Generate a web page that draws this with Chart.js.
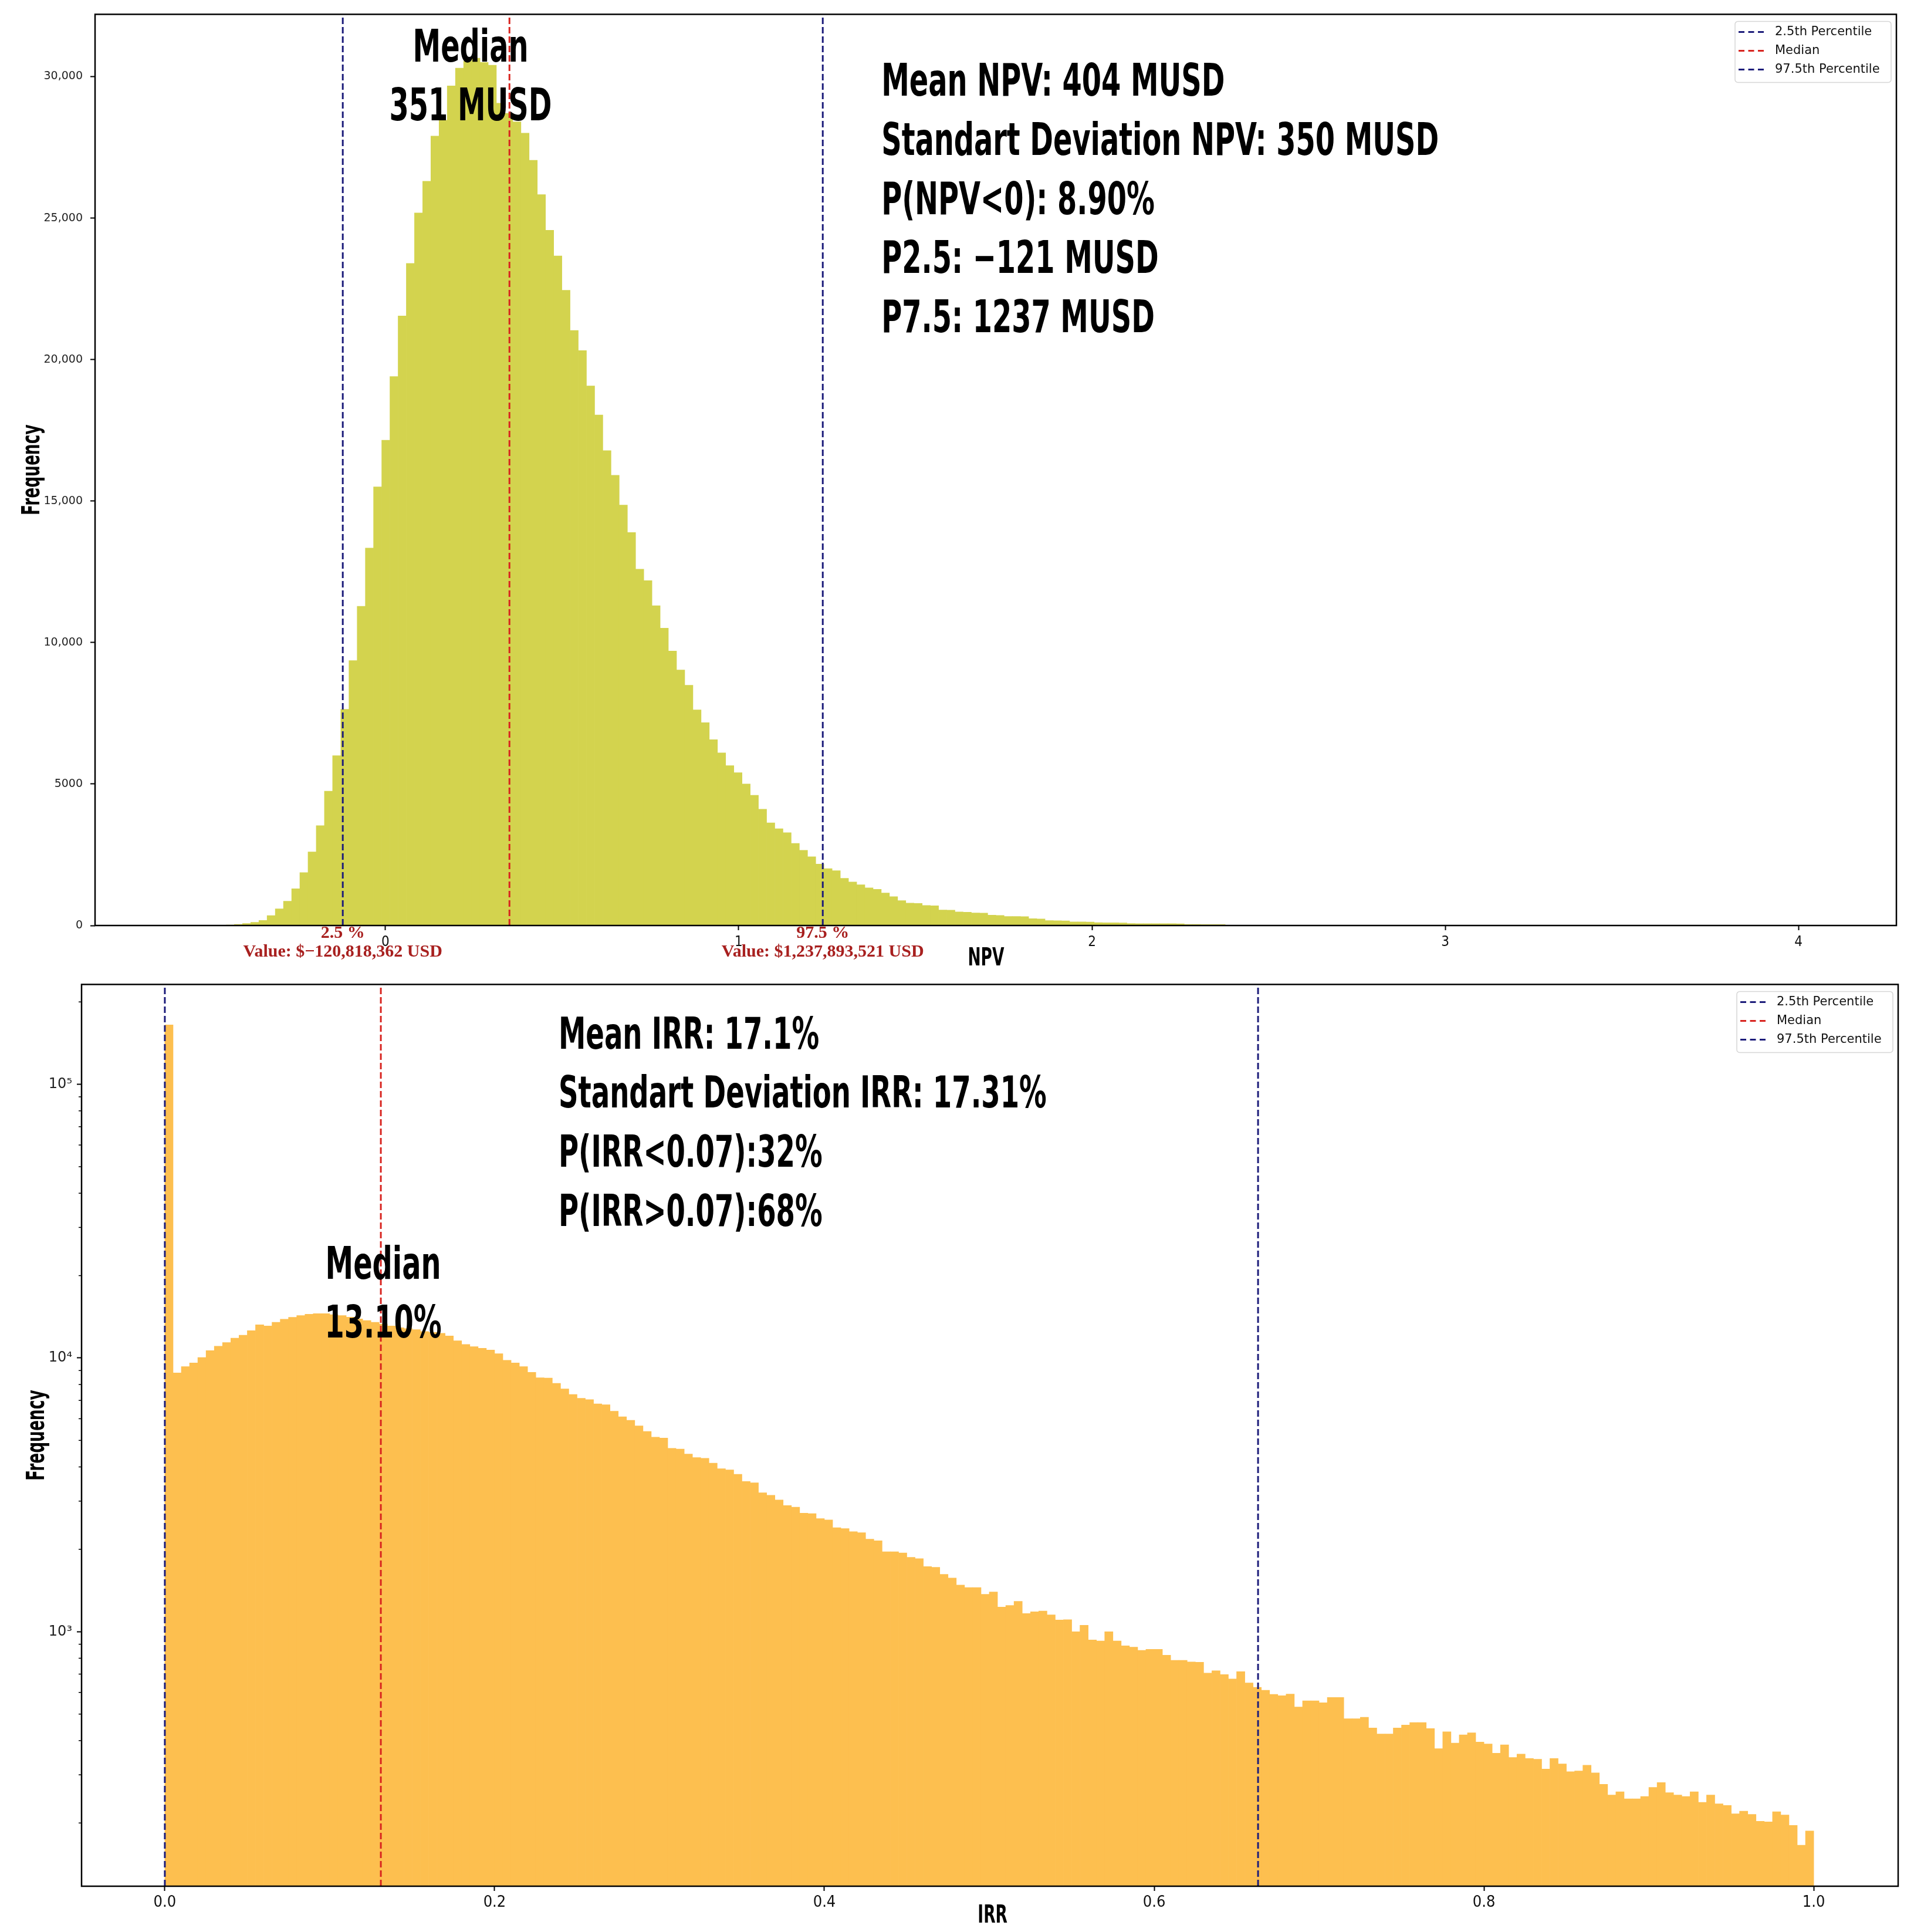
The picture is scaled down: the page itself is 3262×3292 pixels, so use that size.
<!DOCTYPE html>
<html>
<head>
<meta charset="utf-8">
<title>NPV and IRR distribution</title>
<script src="https://cdn.jsdelivr.net/npm/chart.js@4.4.1/dist/chart.umd.min.js"></script>
<style>
    html, body { margin: 0; padding: 0; background: #fff; }
    #wrap { position: relative; width: 3262px; height: 3292px; overflow: hidden; }
    #npv-box { position: absolute; left: 0; top: 0; width: 3262px; height: 1660px; }
    #irr-box { position: absolute; left: 0; top: 1655px; width: 3262px; height: 1637px; }
</style>
</head>
<body>
<div id="wrap">
    <div id="npv-box"><canvas id="npv-chart"></canvas></div>
    <div id="irr-box"><canvas id="irr-chart"></canvas></div>
</div>
<script>
// NPV histogram (billion USD bins)
const npvBinStart = -0.590;
const npvBinWidth = 0.02318;
const npvCounts = [
    1, 2, 3, 5, 8, 12, 20, 40, 70, 110,
    180, 350, 590, 860, 1300, 1870, 2600, 3530, 4750, 6000,
    7640, 9360, 11280, 13340, 15500, 17150, 19400, 21540, 23400, 25180,
    26300, 27900, 28460, 29670, 30300, 30550, 30650, 30500, 30400, 29060,
    28700, 28400, 28000, 27040, 25830, 24570, 23660, 22450, 21030, 20320,
    19070, 18040, 16780, 15910, 14860, 13890, 12590, 12190, 11300, 10510,
    9700, 9030, 8490, 7620, 7170, 6570, 6100, 5650, 5400, 5000,
    4600, 4110, 3630, 3420, 3280, 2900, 2660, 2430, 2170, 2010,
    1940, 1670, 1540, 1440, 1330, 1280, 1150, 1020, 880, 790,
    780, 710, 700, 550, 545, 480, 470, 445, 440, 365,
    355, 320, 318, 315, 240, 232, 175, 170, 165, 130,
    128, 125, 100, 98, 96, 94, 70, 68, 67, 66,
    65, 64, 62, 40, 38, 36, 35, 33, 15, 8,
    5
];
const npvPercentiles = [-0.1208, 0.351, 1.2379];
const npvXTicks = [0, 1, 2, 3, 4];
const npvXTickLabels = ['0', '1', '2', '3', '4'];
const npvYTicks = [0, 5000, 10000, 15000, 20000, 25000, 30000];
const npvYTickLabels = ['0', '5000', '10,000', '15,000', '20,000', '25,000', '30,000'];
const npvStats = ['Mean NPV: 404 MUSD', 'Standart Deviation NPV: 350 MUSD', 'P(NPV<0): 8.90%', 'P2.5: \u2212121 MUSD', 'P7.5: 1237 MUSD'];
const npvMedianLabel = ['Median', '351 MUSD'];
const npvPctLabels = ['2.5 %', '97.5 %'];
const npvValueLabels = ['Value: $\u2212120,818,362 USD', 'Value: $1,237,893,521 USD'];

// IRR histogram
const irrBinStart = 0;
const irrBinWidth = 0.005;
const irrCounts = [
    164900, 8820, 9300, 9590, 10040, 10640, 11050, 11390, 11820, 12120,
    12590, 13220, 13090, 13510, 13860, 14090, 14300, 14460, 14530, 14530,
    14400, 14300, 14100, 13900, 13700, 13500, 13300, 13100, 12900, 12800,
    12700, 12500, 12400, 12310, 12040, 11560, 11210, 11000, 10860, 10700,
    10370, 9810, 9590, 9300, 8870, 8470, 8450, 8080, 7710, 7360,
    7130, 7050, 6800, 6750, 6390, 6100, 5920, 5650, 5390, 5140,
    5100, 4680, 4650, 4460, 4330, 4300, 4130, 3940, 3900, 3760,
    3540, 3500, 3220, 3150, 3030, 2890, 2850, 2710, 2700, 2590,
    2560, 2400, 2380, 2320, 2300, 2180, 2150, 1960, 1960, 1940,
    1870, 1850, 1730, 1720, 1620, 1570, 1480, 1450, 1450, 1370,
    1397, 1231, 1247, 1291, 1165, 1183, 1190, 1153, 1103, 1107,
    1000, 1056, 933, 925, 1000, 925, 888, 878, 855, 862,
    862, 821, 786, 786, 775, 773, 706, 720, 697, 672,
    715, 650, 626, 611, 590, 584, 592, 531, 559, 559,
    550, 575, 575, 481, 481, 487, 445, 423, 423, 445,
    456, 466, 466, 443, 374, 431, 392, 420, 427, 395,
    389, 360, 386, 347, 357, 344, 342, 315, 344, 329,
    308, 310, 325, 305, 277, 253, 260, 245, 245, 250,
    270, 281, 258, 253, 250, 260, 238, 253, 235, 232,
    216, 221, 215, 203, 202, 220, 214, 196, 166, 187
];
const irrPercentiles = [0.0, 0.131, 0.663];
const irrXTicks = [0, 0.2, 0.4, 0.6, 0.8, 1.0];
const irrXTickLabels = ['0.0', '0.2', '0.4', '0.6', '0.8', '1.0'];
const irrYTicks = [1000, 10000, 100000];
const irrYTickLabels = ['10\u00b3', '10\u2074', '10\u2075'];
const irrMinorTicks = [200, 300, 400, 500, 600, 700, 800, 900,
    2000, 3000, 4000, 5000, 6000, 7000, 8000, 9000,
    20000, 30000, 40000, 50000, 60000, 70000, 80000, 90000, 200000];
const irrStats = ['Mean IRR: 17.1%', 'Standart Deviation IRR: 17.31%', 'P(IRR<0.07):32%', 'P(IRR>0.07):68%'];
const irrMedianLabel = ['Median', '13.10%'];

const pctNames = ['2.5th Percentile', 'Median', '97.5th Percentile'];
const pctColors = ['#1c1c7a', '#d8241f', '#1c1c7a'];

const narrow = '"DejaVu Sans Condensed", "DejaVu Sans", sans-serif';
const plain = '"DejaVu Sans", sans-serif';
const squeeze = 0.69;   // horizontal squeeze for the condensed bold captions

// draws one line of text, optionally squeezed horizontally and rotated
function drawText(ctx, t, x, y, sx, rot) {
    ctx.save();
    ctx.translate(x, y);
    if (rot) ctx.rotate(rot);
    ctx.scale(sx, 1);
    ctx.fillText(t, 0, 0);
    ctx.restore();
}

// frame, minor ticks, captions, axis titles and legend drawn over the plot
const overlay = {
    id: 'overlay',
    afterDatasetsDraw(chart, args, o) {
        const { ctx, chartArea: a } = chart;
        const xs = chart.scales.x, ys = chart.scales.y;
        ctx.save();

        ctx.strokeStyle = '#000';
        ctx.lineWidth = 1.5;
        (o.minorTicks || []).forEach(v => {
            const py = ys.getPixelForValue(v);
            ctx.beginPath();
            ctx.moveTo(a.left - 5, py);
            ctx.lineTo(a.left, py);
            ctx.stroke();
        });

        ctx.lineWidth = 2.5;
        ctx.strokeRect(a.left, a.top, a.right - a.left, a.bottom - a.top);

        (o.blocks || []).forEach(b => {
            ctx.font = b.font;
            ctx.fillStyle = b.color;
            ctx.textAlign = b.align;
            ctx.textBaseline = 'middle';
            const px = xs.getPixelForValue(b.x);
            const py = b.dy !== undefined ? a.bottom + b.dy : ys.getPixelForValue(b.y);
            b.lines.forEach((t, i) => drawText(ctx, t, px, py + i * b.gap, b.sx || 1, 0));
        });

        // axis titles
        ctx.font = 'bold 42px ' + narrow;
        ctx.fillStyle = '#000';
        ctx.textAlign = 'center';
        ctx.textBaseline = 'middle';
        drawText(ctx, o.xTitle, xs.getPixelForValue(o.xTitleX), a.bottom + o.xTitleDy, 0.7, 0);
        drawText(ctx, 'Frequency', a.left - o.yTitleDx, (a.top + a.bottom) / 2, 0.7, -Math.PI / 2);

        // legend box in the upper right corner
        const items = chart.data.datasets.filter(d => d.type === 'line');
        const bw = 266, bh = 104;
        const bx = a.right - 9 - bw, by = a.top + 12;
        ctx.beginPath();
        ctx.roundRect(bx, by, bw, bh, 5);
        ctx.fillStyle = 'rgba(255,255,255,0.85)';
        ctx.fill();
        ctx.strokeStyle = '#d6d6d6';
        ctx.lineWidth = 1.5;
        ctx.stroke();
        ctx.font = '21px ' + plain;
        ctx.textAlign = 'left';
        ctx.textBaseline = 'middle';
        items.forEach((d, i) => {
            const yc = by + 18 + i * 32;
            ctx.setLineDash([10, 6.5]);
            ctx.strokeStyle = d.borderColor;
            ctx.lineWidth = 3;
            ctx.beginPath();
            ctx.moveTo(bx + 6, yc);
            ctx.lineTo(bx + 50, yc);
            ctx.stroke();
            ctx.setLineDash([]);
            ctx.fillStyle = '#111';
            ctx.fillText(d.label, bx + 68, yc);
        });
        ctx.restore();
    }
};

function vlines(values, lo, hi) {
    return values.map((v, i) => ({
        type: 'line',
        label: pctNames[i],
        data: [{ x: v, y: lo }, { x: v, y: hi }],
        borderColor: pctColors[i],
        borderWidth: 3,
        borderDash: [11, 5],
        pointRadius: 0,
        order: 0
    }));
}

function histChart(id, cfg) {
    const bars = cfg.counts.map((c, k) => ({ x: cfg.binStart + (k + 0.5) * cfg.binWidth, y: c }));
    return new Chart(document.getElementById(id), {
        type: 'bar',
        data: {
            datasets: [{
                type: 'bar',
                data: bars,
                backgroundColor: cfg.color,
                borderWidth: 0,
                barPercentage: 1,
                categoryPercentage: 1,
                order: 1
            }].concat(vlines(cfg.percentiles, cfg.yMin, cfg.yMax))
        },
        options: {
            responsive: true,
            maintainAspectRatio: false,
            devicePixelRatio: 1,
            animation: false,
            events: [],
            layout: { padding: { top: cfg.padTop, right: cfg.padRight, left: 0, bottom: 0 } },
            plugins: {
                legend: { display: false },
                tooltip: { enabled: false },
                overlay: {
                    blocks: cfg.blocks, minorTicks: cfg.minorTicks,
                    xTitle: cfg.xTitle, xTitleX: cfg.xTitleX, xTitleDy: cfg.xTitleDy, yTitleDx: cfg.yTitleDx
                }
            },
            scales: {
                x: {
                    type: 'linear',
                    min: cfg.xMin,
                    max: cfg.xMax,
                    offset: false,
                    afterBuildTicks: s => { s.ticks = cfg.xTicks.map(v => ({ value: v })); },
                    afterFit: s => { s.height = cfg.xHeight; },
                    ticks: {
                        autoSkip: false,
                        maxRotation: 0,
                        padding: cfg.xTickPad,
                        color: '#111',
                        font: { family: narrow, size: cfg.xTickSize },
                        callback: (v, i) => cfg.xTickLabels[i]
                    },
                    grid: { offset: false, drawOnChartArea: false, drawTicks: true, tickLength: 8, tickWidth: 2, tickColor: '#000' },
                    border: { display: false },
                    title: { display: false }
                },
                y: {
                    type: cfg.yType,
                    min: cfg.yMin,
                    max: cfg.yMax,
                    afterBuildTicks: s => { s.ticks = cfg.yTicks.map(v => ({ value: v })); },
                    afterFit: s => { s.width = cfg.yWidth; },
                    ticks: {
                        autoSkip: false,
                        padding: cfg.yTickPad,
                        color: '#222',
                        font: { family: plain, size: cfg.yTickSize },
                        callback: (v, i) => cfg.yTickLabels[i]
                    },
                    grid: { drawOnChartArea: false, drawTicks: true, tickLength: 8, tickWidth: 2, tickColor: '#000' },
                    border: { display: false },
                    title: { display: false }
                }
            }
        },
        plugins: [overlay]
    });
}

document.fonts.ready.then(() => {
    histChart('npv-chart', {
        binStart: npvBinStart, binWidth: npvBinWidth, counts: npvCounts, color: '#d3d34e',
        percentiles: npvPercentiles,
        xMin: -0.822, xMax: 4.277, xTicks: npvXTicks, xTickLabels: npvXTickLabels, xTickSize: 24, xTickPad: 6,
        xHeight: 83, xTitle: 'NPV', xTitleX: 1.70, xTitleDy: 57,
        yType: 'linear', yMin: 0, yMax: 32200, yTicks: npvYTicks, yTickLabels: npvYTickLabels,
        yWidth: 162, yTickPad: 13, yTickSize: 19, yTitleDx: 106,
        padTop: 24, padRight: 30,
        blocks: [
            { lines: npvStats, x: 1.404, y: 29730, gap: 100.6, font: 'bold 77px ' + narrow, sx: squeeze, color: '#000', align: 'left' },
            { lines: npvMedianLabel, x: 0.241, y: 30950, gap: 100, font: 'bold 77px ' + narrow, sx: squeeze, color: '#000', align: 'center' },
            { lines: [npvPctLabels[0], npvValueLabels[0]], x: npvPercentiles[0], dy: 13, gap: 32, font: 'bold 30px "Liberation Serif", serif', color: '#a8201f', align: 'center' },
            { lines: [npvPctLabels[1], npvValueLabels[1]], x: npvPercentiles[2], dy: 13, gap: 32, font: 'bold 30px "Liberation Serif", serif', color: '#a8201f', align: 'center' }
        ]
    });

    histChart('irr-chart', {
        binStart: irrBinStart, binWidth: irrBinWidth, counts: irrCounts, color: '#fdbf4f',
        percentiles: irrPercentiles,
        xMin: -0.0505, xMax: 1.0512, xTicks: irrXTicks, xTickLabels: irrXTickLabels, xTickSize: 27, xTickPad: 4,
        xHeight: 78, xTitle: 'IRR', xTitleX: 0.502, xTitleDy: 51,
        yType: 'logarithmic', yMin: 117.5, yMax: 231700, yTicks: irrYTicks, yTickLabels: irrYTickLabels,
        yWidth: 139, yTickPad: 8, yTickSize: 24, yTitleDx: 75,
        minorTicks: irrMinorTicks,
        padTop: 8, padRight: 27,
        blocks: [
            { lines: irrStats, x: 0.2388, y: 148600, gap: 100.6, font: 'bold 75px ' + narrow, sx: squeeze, color: '#000', align: 'left' },
            { lines: irrMedianLabel, x: 0.1324, y: 21540, gap: 100, font: 'bold 77px ' + narrow, sx: squeeze, color: '#000', align: 'center' }
        ]
    });
});
</script>
</body>
</html>
